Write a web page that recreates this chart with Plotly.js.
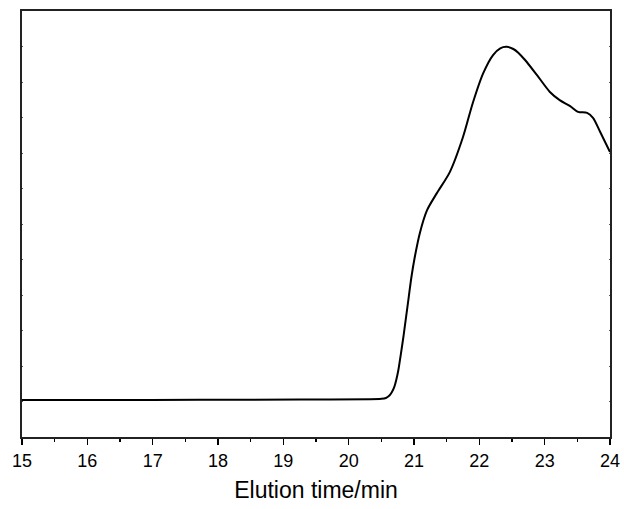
<!DOCTYPE html>
<html>
<head>
<meta charset="utf-8">
<script src="https://cdn.plot.ly/plotly-3.0.1.min.js"></script>
<style>html,body{margin:0;padding:0;background:#fff;}#chart{width:624px;height:509px;}</style>
</head>
<body>
<div id="chart"></div>
<script>
const elutionTime = [15.0, 16.19, 17.72, 19.26, 20.33, 20.50, 20.57, 20.62, 20.66, 20.70, 20.73, 20.76, 20.80, 20.84, 20.88, 20.92, 20.96, 21.01, 21.09, 21.20, 21.35, 21.55, 21.75, 21.90, 22.06, 22.21, 22.32, 22.42, 22.52, 22.60, 22.70, 22.88, 23.08, 23.23, 23.39, 23.51, 23.65, 23.74, 23.85, 24.0];
const signal = [1.042, 1.042, 1.048, 1.056, 1.062, 1.075, 1.10, 1.16, 1.26, 1.42, 1.62, 1.88, 2.35, 2.85, 3.40, 3.95, 4.50, 5.05, 5.75, 6.39, 6.87, 7.47, 8.45, 9.41, 10.25, 10.76, 10.95, 10.99, 10.93, 10.82, 10.62, 10.20, 9.72, 9.49, 9.32, 9.16, 9.13, 8.99, 8.59, 8.03];
const xTickVals = [15, 16, 17, 18, 19, 20, 21, 22, 23, 24];

Plotly.newPlot('chart', [{
  x: elutionTime,
  y: signal,
  type: 'scatter',
  mode: 'lines',
  line: {color: '#000', width: 2, shape: 'spline', smoothing: 0.8},
  hoverinfo: 'skip'
}], {
  width: 624,
  height: 509,
  margin: {l: 22, r: 14, t: 11, b: 72},
  paper_bgcolor: '#fff',
  plot_bgcolor: '#fff',
  showlegend: false,
  font: {family: 'Liberation Sans, Arial, sans-serif', color: '#000'},
  xaxis: {
    range: [15, 24],
    tickvals: xTickVals,
    ticktext: xTickVals.map(String),
    ticks: 'outside',
    ticklen: 6,
    tickwidth: 1.5,
    tickcolor: '#000',
    minor: {dtick: 0.5, ticks: 'outside', ticklen: 3, tickwidth: 1.5, tickcolor: '#000'},
    showline: true,
    linecolor: '#222',
    linewidth: 2,
    mirror: true,
    showgrid: false,
    zeroline: false,
    tickfont: {size: 18, color: '#000'},
    title: {text: 'Elution time/min', font: {size: 23, color: '#000'}, standoff: 12}
  },
  yaxis: {
    range: [0, 12],
    dtick: 1,
    ticks: 'inside',
    ticklen: 1,
    tickwidth: 1,
    tickcolor: '#555',
    showticklabels: false,
    showline: true,
    linecolor: '#222',
    linewidth: 2,
    mirror: 'ticks',
    showgrid: false,
    zeroline: false
  }
}, {staticPlot: true});
</script>
</body>
</html>
